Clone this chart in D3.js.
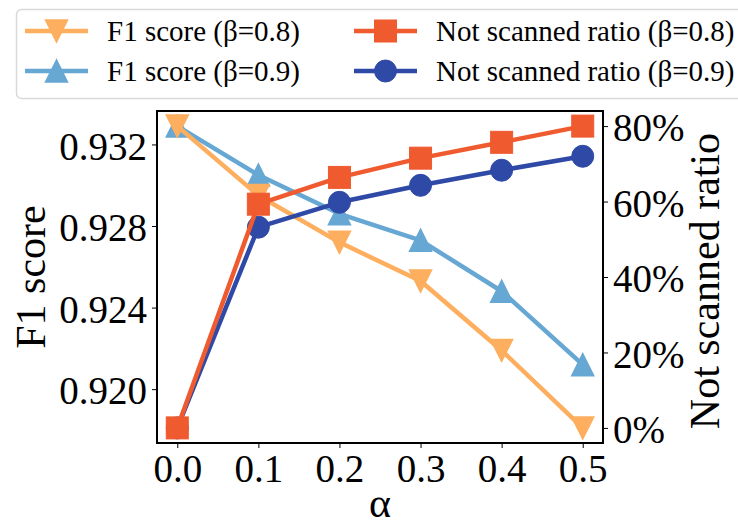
<!DOCTYPE html>
<html>
<head>
<meta charset="utf-8">
<script src="https://cdn.jsdelivr.net/npm/d3@7"></script>
<style>
  body { margin: 0; background: #fff; }
  svg { display: block; }
  svg text { font-family: "Liberation Serif", Tinos, "Times New Roman", "DejaVu Serif", serif !important; fill: #000; }
</style>
</head>
<body>
<div id="chart"></div>
<script>
// data
const alpha = [0.0, 0.1, 0.2, 0.3, 0.4, 0.5];
const f1Beta08 = [0.9329, 0.9295, 0.9272, 0.9253, 0.9219, 0.9181];
const f1Beta09 = [0.9329, 0.9305, 0.9286, 0.9273, 0.9248, 0.9212];
const ratioBeta08 = [0.0, 0.593, 0.664, 0.715, 0.757, 0.80];
const ratioBeta09 = [0.0, 0.532, 0.598, 0.643, 0.683, 0.72];

const xTicks = [0.0, 0.1, 0.2, 0.3, 0.4, 0.5];
const f1Ticks = [0.920, 0.924, 0.928, 0.932];
const ratioTicks = [0, 0.2, 0.4, 0.6, 0.8];

const width = 738, height = 527;
const plot = { left: 157, right: 603, top: 111, bottom: 443 };
const serif = "'Liberation Serif', Tinos, 'Times New Roman', 'DejaVu Serif', serif";

const svg = d3.select("#chart").append("svg")
    .attr("width", width)
    .attr("height", height)
    .attr("font-family", serif);

// matplotlib style 5% margins
function padded(vals) {
    const [lo, hi] = d3.extent(vals);
    const p = (hi - lo) * 0.05;
    return [lo - p, hi + p];
}

const x = d3.scaleLinear().domain(padded(alpha)).range([plot.left, plot.right]);
const yLeft = d3.scaleLinear().domain(padded(f1Beta08.concat(f1Beta09))).range([plot.bottom, plot.top]);
const yRight = d3.scaleLinear().domain(padded(ratioBeta08.concat(ratioBeta09))).range([plot.bottom, plot.top]);

const series = [
    { name: "F1 score (β=0.9)", vals: f1Beta09, y: yLeft, color: "#67a7d3", shape: "up" },
    { name: "F1 score (β=0.8)", vals: f1Beta08, y: yLeft, color: "#fdae5e", shape: "down" },
    { name: "Not scanned ratio (β=0.9)", vals: ratioBeta09, y: yRight, color: "#2f4aa6", shape: "circle" },
    { name: "Not scanned ratio (β=0.8)", vals: ratioBeta08, y: yRight, color: "#ef5a2f", shape: "square" }
];

const ms = 22;
function drawMarker(g, shape, cx, cy, color) {
    const h = ms / 2;
    if (shape === "circle") {
        g.append("circle").attr("cx", cx).attr("cy", cy).attr("r", h)
            .attr("fill", color).attr("stroke", color).attr("stroke-width", 1);
    } else if (shape === "square") {
        g.append("rect").attr("x", cx - h).attr("y", cy - h).attr("width", ms).attr("height", ms)
            .attr("fill", color).attr("stroke", color).attr("stroke-width", 1);
    } else {
        const s = shape === "up" ? 1 : -1;
        const pts = [[cx, cy - s * h], [cx - h, cy + s * h], [cx + h, cy + s * h]];
        g.append("polygon").attr("points", pts.map(p => p.join(",")).join(" "))
            .attr("fill", color).attr("stroke", color).attr("stroke-width", 1.5)
            .attr("stroke-linejoin", "miter");
    }
}

// lines + markers
series.forEach(s => {
    const g = svg.append("g");
    const line = d3.line().x((d, i) => x(alpha[i])).y(d => s.y(d));
    g.append("path")
        .datum(s.vals)
        .attr("d", line)
        .attr("fill", "none")
        .attr("stroke", s.color)
        .attr("stroke-width", 4.5)
        .attr("stroke-linejoin", "round");
    s.vals.forEach((v, i) => drawMarker(g, s.shape, x(alpha[i]), s.y(v), s.color));
});

// frame
svg.append("rect")
    .attr("x", plot.left).attr("y", plot.top)
    .attr("width", plot.right - plot.left).attr("height", plot.bottom - plot.top)
    .attr("fill", "none").attr("stroke", "#000").attr("stroke-width", 2);

const tickFont = 39;

// bottom axis
const xAxis = svg.append("g").attr("transform", `translate(0,${plot.bottom})`)
    .call(d3.axisBottom(x).tickValues(xTicks).tickFormat(d3.format(".1f")).tickSize(5).tickPadding(6));
// left axis
const lAxis = svg.append("g").attr("transform", `translate(${plot.left},0)`)
    .call(d3.axisLeft(yLeft).tickValues(f1Ticks).tickFormat(d3.format(".3f")).tickSize(5).tickPadding(5));
// right axis
const rAxis = svg.append("g").attr("transform", `translate(${plot.right},0)`)
    .call(d3.axisRight(yRight).tickValues(ratioTicks).tickFormat(d3.format(".0%")).tickSize(5).tickPadding(5));

[xAxis, lAxis, rAxis].forEach(a => {
    a.attr("font-family", serif).attr("font-size", tickFont);
    a.select(".domain").remove();
    a.selectAll(".tick line").attr("stroke", "#000").attr("stroke-width", 1);
    a.selectAll(".tick text").attr("fill", "#000");
});
xAxis.selectAll(".tick text").attr("dy", "0.72em");
lAxis.selectAll(".tick text").attr("dy", "0.38em");
rAxis.selectAll(".tick text").attr("dy", "0.38em");

// axis titles
svg.append("text")
    .attr("transform", `translate(45,${(plot.top + plot.bottom) / 2}) rotate(-90)`)
    .attr("text-anchor", "middle")
    .attr("font-size", 42)
    .text("F1 score");

svg.append("text")
    .attr("transform", `translate(719,${(plot.top + plot.bottom) / 2 + 4}) rotate(-90)`)
    .attr("text-anchor", "middle")
    .attr("font-size", 42)
    .text("Not scanned ratio");

svg.append("text")
    .attr("x", (plot.left + plot.right) / 2)
    .attr("y", 517)
    .attr("text-anchor", "middle")
    .attr("font-size", 42)
    .text("α");

// legend
const legend = svg.append("g");
legend.append("rect")
    .attr("x", 16.5).attr("y", 9.5)
    .attr("width", 740).attr("height", 89)
    .attr("rx", 5)
    .attr("fill", "#fff")
    .attr("stroke", "#d9d9d9")
    .attr("stroke-width", 1.5);

const legendItems = [
    { s: series[1], col: 0, row: 0 },
    { s: series[0], col: 0, row: 1 },
    { s: series[3], col: 1, row: 0 },
    { s: series[2], col: 1, row: 1 }
];
const colX = [25, 354];
const rowY = [31, 71];
legendItems.forEach(it => {
    const lx = colX[it.col], ly = rowY[it.row];
    const g = legend.append("g");
    g.append("line")
        .attr("x1", lx).attr("x2", lx + 63)
        .attr("y1", ly).attr("y2", ly)
        .attr("stroke", it.s.color).attr("stroke-width", 4.5);
    drawMarker(g, it.s.shape, lx + 31.5, ly, it.s.color);
    g.append("text")
        .attr("x", lx + 82)
        .attr("y", ly)
        .attr("dy", "0.35em")
        .attr("font-size", 29)
        .text(it.s.name);
});
</script>
</body>
</html>
